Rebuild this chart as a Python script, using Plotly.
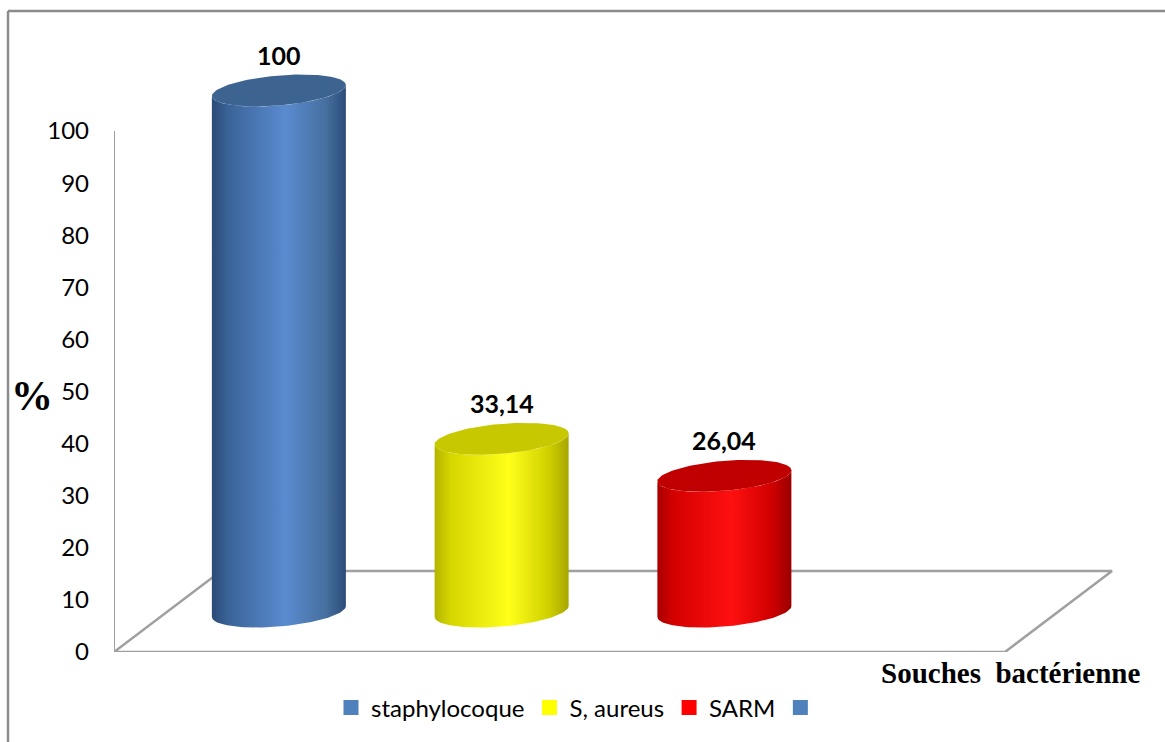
import numpy as np
import plotly.graph_objects as go

# ---------------- data ----------------
categories = ["staphylocoque", "S, aureus", "SARM", ""]
values = [100, 33.14, 26.04, None]
y_ticks = [0, 10, 20, 30, 40, 50, 60, 70, 80, 90, 100]

# ---------------- style ----------------
body_scales = [
    [[0, "#2a4a76"], [0.12, "#3a6398"], [0.55, "#5a8bd0"], [0.85, "#46709f"], [1, "#2c4c78"]],
    [[0, "#b4b400"], [0.12, "#d6d600"], [0.55, "#ffff1a"], [0.85, "#d0d000"], [1, "#a6a600"]],
    [[0, "#a80000"], [0.12, "#d40000"], [0.55, "#ff1010"], [0.85, "#d00000"], [1, "#9a0000"]],
    [[0, "#2a4a76"], [0.55, "#5a8bd0"], [1, "#2c4c78"]],
]
top_colors = ["#3d6391", "#c8c800", "#c00000", "#3d6391"]
legend_colors = ["#4f81bd", "#ffff00", "#ff0000", "#4f81bd"]
GRID = "#a0a0a0"

W, H = 1165, 742
L, R, T, B = 114, 20, 0, 90
plot_w, plot_h = W - L - R, H - T - B
CAT_PX = 222.75
Y_PX = 5.21
XR = [-0.5, -0.5 + plot_w / CAT_PX]
YR = [0, plot_h / Y_PX]

DX = 107 / CAT_PX
DY = 81 / Y_PX
A = 67 / CAT_PX
Bq = 15 / Y_PX
K = 5.5 / Y_PX

fig = go.Figure()

# floor
n_cat = len(categories)
fx = [-0.5, -0.5 + n_cat, -0.5 + n_cat + DX, -0.5 + DX, -0.5]
fy = [0, 0, DY, DY, 0]
fig.add_trace(go.Scatter(x=fx, y=fy, mode="lines", line=dict(color=GRID, width=2.5),
                         showlegend=False, hoverinfo="skip"))
# vertical axis line
fig.add_trace(go.Scatter(x=[-0.5, -0.5], y=[0, max(y_ticks)], mode="lines",
                         line=dict(color=GRID, width=2), showlegend=False, hoverinfo="skip"))


def ell(cx, cy, t):
    return cx + A * np.cos(t), cy + Bq * np.sin(t) + K * np.cos(t)


annotations = []
for i, (name, v) in enumerate(zip(categories, values)):
    if v is None:
        continue
    cx = i + DX / 2
    y0 = DY / 2
    y1 = y0 + v
    tb = np.linspace(np.pi, 2 * np.pi, 60)
    bx, by = ell(cx, y0, tb)
    tt = np.linspace(2 * np.pi, np.pi, 60)
    tx, ty = ell(cx, y1, tt)
    xs = np.concatenate([bx, tx, bx[:1]])
    ys = np.concatenate([by, ty, by[:1]])
    fig.add_trace(go.Scatter(x=xs, y=ys, mode="lines", fill="toself", line=dict(width=0),
                             fillgradient=dict(type="horizontal", colorscale=body_scales[i]),
                             showlegend=False, hoverinfo="skip"))
    ta = np.linspace(0, 2 * np.pi, 120)
    ex, ey = ell(cx, y1, ta)
    fig.add_trace(go.Scatter(x=ex, y=ey, mode="lines", fill="toself", line=dict(width=0),
                             fillcolor=top_colors[i], showlegend=False, hoverinfo="skip"))
    label = str(int(v)) if float(v).is_integer() else f"{v:.2f}".replace(".", ",")
    annotations.append(dict(x=cx, y=y1, xref="x", yref="y", text=f"<b>{label}</b>",
                            showarrow=False, yshift=36,
                            font=dict(family="Lato", size=25, color="black")))

# legend entries
for name, c in zip(categories, legend_colors):
    fig.add_trace(go.Scatter(x=[None], y=[None], mode="markers", name=name,
                             marker=dict(symbol="square", size=15, color=c)))

px2x = lambda px: (px - L) / plot_w
py2y = lambda py: (H - B - py) / plot_h

annotations.append(dict(x=px2x(32), y=py2y(396), xref="paper", yref="paper", text="<b>%</b>",
                        showarrow=False, xanchor="center", yanchor="middle",
                        font=dict(family="Liberation Serif", size=42, color="black")))
annotations.append(dict(x=px2x(1011), y=py2y(673), xref="paper", yref="paper",
                        text="<b>Souches\u00a0 bactérienne</b>",
                        showarrow=False, xanchor="center", yanchor="middle",
                        font=dict(family="Liberation Serif", size=29, color="black")))

shapes = [
    dict(type="line", xref="paper", yref="paper", x0=px2x(8), x1=px2x(W + 5),
         y0=py2y(11), y1=py2y(11), line=dict(color="#8c8c8c", width=2.5)),
    dict(type="line", xref="paper", yref="paper", x0=px2x(8), x1=px2x(8),
         y0=py2y(11), y1=py2y(H + 5), line=dict(color="#8c8c8c", width=2.5)),
]

fig.update_layout(
    width=W, height=H,
    margin=dict(l=L, r=R, t=T, b=B),
    paper_bgcolor="white", plot_bgcolor="white",
    xaxis=dict(range=XR, visible=False, fixedrange=True),
    yaxis=dict(range=YR, tickvals=y_ticks, ticktext=[str(t) for t in y_ticks],
               showgrid=False, zeroline=False, showline=False, ticks="",
               ticklabelstandoff=24,
               tickfont=dict(family="Lato", size=24, color="black"), fixedrange=True),
    legend=dict(orientation="h", xref="container", yref="container",
                x=(331) / W, y=1 - 708 / H, xanchor="left", yanchor="middle",
                font=dict(family="Lato", size=24, color="black"),
                itemwidth=30, bgcolor="rgba(0,0,0,0)"),
    annotations=annotations,
    shapes=shapes,
    font=dict(family="Lato"),
)

fig.write_html("out.html")
